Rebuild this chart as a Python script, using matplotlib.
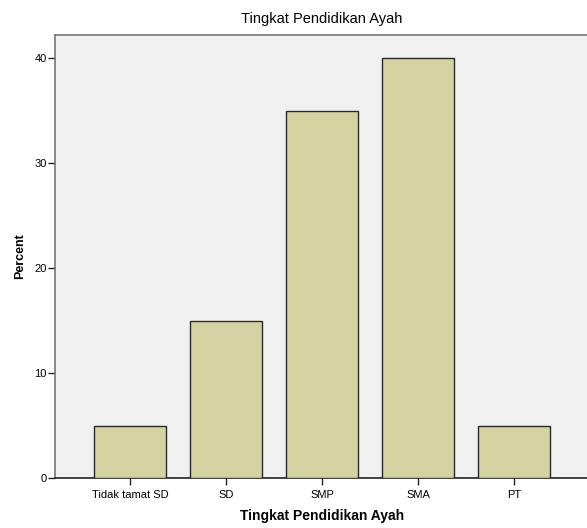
#!/usr/bin/env python3
"""
Bar chart: Tingkat Pendidikan Ayah (percent)
"""

import matplotlib.pyplot as plt
import numpy as np

categories = ['Tidak tamat SD', 'SD', 'SMP', 'SMA', 'PT']
percent = [5, 15, 35, 40, 5]
y_ticks = [0, 10, 20, 30, 40]

plt.rcParams['font.family'] = ['Liberation Sans', 'DejaVu Sans']

fig = plt.figure(figsize=(5.87, 5.28), dpi=100)
ax = fig.add_axes([0.0937, 0.0947, 0.9097, 0.839])

x = np.arange(len(categories))
ax.bar(x, percent, width=0.75, color='#d5d2a2', edgecolor='#2a2a2a', linewidth=1.0, zorder=3)

ax.set_facecolor('#f0f0f0')
ax.set_xlim(-0.78, 4.78)
ax.set_ylim(0, 42.2)

ax.set_yticks(y_ticks)
ax.set_xticks(x)
ax.set_xticklabels(categories)
ax.tick_params(axis='both', direction='out', length=5, width=1, color='#222222', pad=1)
ax.tick_params(axis='x', pad=4)
for lbl in ax.get_xticklabels() + ax.get_yticklabels():
    lbl.set_family(['Liberation Sans Narrow', 'Liberation Sans', 'DejaVu Sans'])
    lbl.set_fontsize(8)

for side in ['left', 'top', 'right']:
    ax.spines[side].set_color('#777777')
    ax.spines[side].set_linewidth(1.2)
ax.spines['bottom'].set_color('#222222')
ax.spines['bottom'].set_linewidth(1.2)

ax.set_title('Tingkat Pendidikan Ayah', fontsize=10.5, pad=9)
ax.set_xlabel('Tingkat Pendidikan Ayah', fontsize=10, fontweight='bold', labelpad=6)
ax.set_ylabel('Percent', fontsize=9, fontweight='bold', labelpad=6)

plt.savefig('out.png', dpi=100)
